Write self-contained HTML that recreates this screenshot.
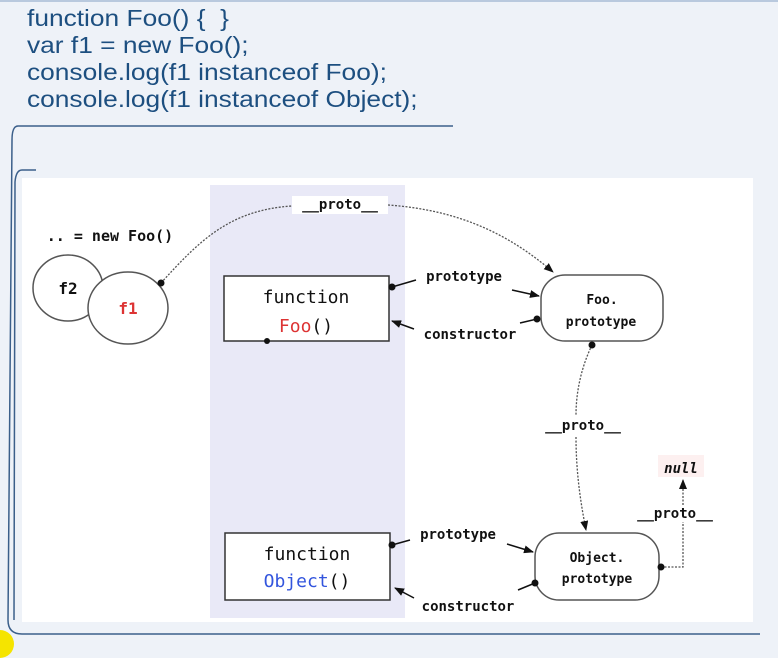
<!DOCTYPE html>
<html><head><meta charset="utf-8"><style>
body{margin:0;width:778px;height:648px;background:#eef2f8;overflow:hidden;position:relative;font-family:"Liberation Sans",sans-serif}
.code{position:absolute;left:27px;color:#1d4f80;font-size:23.5px;line-height:27px;transform:scaleX(1.12);transform-origin:0 0;white-space:nowrap}
svg{position:absolute;left:0;top:0}
</style></head><body>
<div style="position:absolute;left:0;top:0;width:778px;height:2px;background:#b9c9de"></div>
<div class="code" style="top:5px">function Foo() {&nbsp; }<br>var f1 = new Foo();<br>console.log(f1 instanceof Foo);<br>console.log(f1 instanceof Object);</div>
<svg width="778" height="648" viewBox="0 0 778 648" font-family="DejaVu Sans Mono,Liberation Mono,monospace">
<defs><marker id="a" markerWidth="10" markerHeight="8" refX="9" refY="4" orient="auto" markerUnits="userSpaceOnUse"><path d="M0,0 L10,4 L0,8z" fill="#111"/></marker></defs>
<path d="M453,126 H18 Q12,126 12,140 L8,620 Q8,634 22,634 H760" fill="none" stroke="#3b5f8a" stroke-width="1.5"/>
<path d="M36,170 H22 Q16,170 15,182 L14,620" fill="none" stroke="#3b5f8a" stroke-width="1.5"/>
<rect x="22" y="178" width="731" height="444" fill="#fff"/>
<rect x="210" y="185" width="195" height="433" fill="#e9e9f7"/>
<g stroke="#555" stroke-width="1.5" fill="#fff">
<ellipse cx="68" cy="288" rx="35" ry="33"/>
<ellipse cx="128" cy="308" rx="40" ry="36"/>
<rect x="224" y="276" width="165" height="65" stroke="#333"/>
<rect x="225" y="533" width="165" height="67" stroke="#333"/>
<rect x="541" y="275" width="122" height="66" rx="24"/>
<rect x="535" y="533" width="124" height="67" rx="24"/>
</g>
<g fill="none" stroke="#555" stroke-width="1.3" stroke-dasharray="2,1.5">
<path d="M161,283 C200,240 230,210 292,206"/>
<path d="M388,205 C460,210 510,235 553,272" marker-end="url(#a)"/>
<path d="M592,345 C580,370 576,395 576,415"/>
<path d="M576,437 C576,470 580,500 586,530" marker-end="url(#a)"/>
<path d="M661,567 H683 V522"/>
<path d="M683,505 V480" marker-end="url(#a)"/>
</g>
<g stroke="#111" stroke-width="1.5" fill="none">
<path d="M392,287 L416,280"/><path d="M512,290 L539,296" marker-end="url(#a)"/>
<path d="M537,319 L520,323"/><path d="M414,329 L392,321" marker-end="url(#a)"/>
<path d="M392,545 L410,540"/><path d="M507,544 L533,552" marker-end="url(#a)"/>
<path d="M535,583 L518,590"/><path d="M414,598 L395,588" marker-end="url(#a)"/>
</g>
<g fill="#111">
<circle cx="161" cy="283" r="3.5"/><circle cx="392" cy="287" r="3.5"/><circle cx="537" cy="319" r="3.5"/>
<circle cx="592" cy="345" r="3.5"/><circle cx="267" cy="341" r="3"/>
<circle cx="392" cy="545" r="3.5"/><circle cx="535" cy="583" r="3.5"/><circle cx="661" cy="567" r="3.5"/>
</g>
<rect x="292" y="196" width="96" height="18" fill="#fff"/>
<rect x="658" y="455" width="46" height="22" fill="#fdf0f0"/>
<g font-size="14" fill="#111" text-anchor="middle" font-weight="bold">
<text x="340" y="209">__proto__</text>
<text x="110" y="241" font-size="15">.. = new Foo()</text>
<text x="68" y="294" font-size="16">f2</text>
<text x="128" y="314" font-size="16" fill="#d33">f1</text>
<text x="306" y="303" font-size="18" font-weight="normal">function</text>
<text x="306" y="332" font-size="18" font-weight="normal"><tspan fill="#d33">Foo</tspan>()</text>
<text x="307" y="560" font-size="18" font-weight="normal">function</text>
<text x="307" y="587" font-size="18" font-weight="normal"><tspan fill="#3355dd">Object</tspan>()</text>
<text x="602" y="304" font-size="13">Foo.</text>
<text x="601" y="326" font-size="13">prototype</text>
<text x="597" y="562" font-size="13">Object.</text>
<text x="597" y="583" font-size="13">prototype</text>
<text x="464" y="281">prototype</text>
<text x="470" y="339">constructor</text>
<text x="458" y="539">prototype</text>
<text x="468" y="611">constructor</text>
<text x="583" y="430">__proto__</text>
<text x="681" y="473" font-style="italic">null</text>
<text x="675" y="518">__proto__</text>
</g>
</svg>
<div style="position:absolute;left:-14px;top:630px;width:28px;height:28px;border-radius:50%;background:#f5e400"></div>
</body></html>
